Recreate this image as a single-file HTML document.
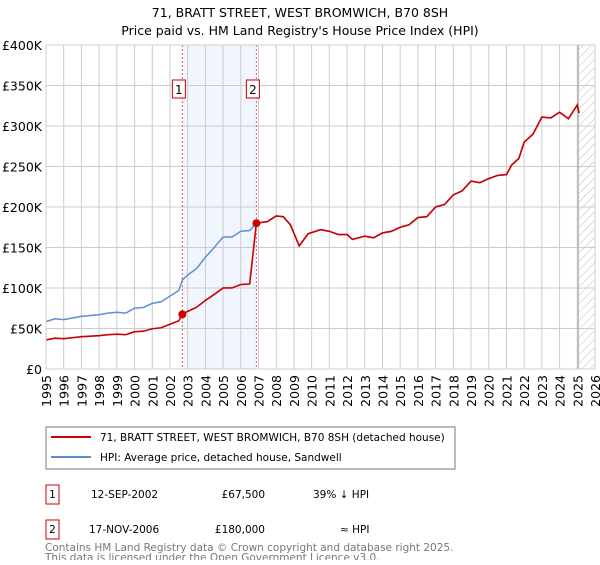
<!DOCTYPE html>
<html><head><meta charset="utf-8"><style>
body{margin:0;background:#fff;font-family:"Liberation Sans","DejaVu Sans",sans-serif;}
svg text{font-family:"DejaVu Sans","Liberation Sans",sans-serif;}
</style></head><body>
<svg id="chart" width="600" height="560" viewBox="0 0 600 560" xmlns="http://www.w3.org/2000/svg">
<defs><pattern id="hatch" width="6" height="6" patternUnits="userSpaceOnUse" patternTransform="rotate(45)"><line x1="0" y1="0" x2="0" y2="6" stroke="#bbb" stroke-width="1"/></pattern></defs>
<text x="300" y="17" text-anchor="middle" font-size="12.5">71, BRATT STREET, WEST BROMWICH, B70 8SH</text>
<text x="300" y="35" text-anchor="middle" font-size="12.5">Price paid vs. HM Land Registry's House Price Index (HPI)</text>
<g id="grid"></g><g id="marks"></g><g id="axes"></g>
<rect x="46" y="427" width="409" height="42" fill="#fff" stroke="#777"/>
<line x1="51" y1="437" x2="91" y2="437" stroke="#cc0000" stroke-width="2"/>
<text x="100" y="441" font-size="10.5">71, BRATT STREET, WEST BROMWICH, B70 8SH (detached house)</text>
<line x1="51" y1="457" x2="91" y2="457" stroke="#5b8fd0" stroke-width="2"/>
<text x="100" y="461" font-size="10.5">HPI: Average price, detached house, Sandwell</text>
<g font-size="10.5">
<rect x="46" y="485" width="13" height="19" fill="#fff" stroke="#cc0000"/><text x="52.5" y="498" text-anchor="middle">1</text>
<text x="91" y="498">12-SEP-2002</text><text x="265" y="498" text-anchor="end">£67,500</text><text x="313" y="498">39% ↓ HPI</text></g>
<g font-size="10.5">
<rect x="46" y="520" width="13" height="19" fill="#fff" stroke="#cc0000"/><text x="52.5" y="533" text-anchor="middle">2</text>
<text x="89" y="533">17-NOV-2006</text><text x="265" y="533" text-anchor="end">£180,000</text><text x="340" y="533">≈ HPI</text></g>
<text x="45" y="551" font-size="10.5" fill="#777">Contains HM Land Registry data © Crown copyright and database right 2025.</text>
<text x="45" y="561" font-size="10.5" fill="#777">This data is licensed under the Open Government Licence v3.0.</text>
</svg>
<script>
const hpiYears=[1995,1995.5,1996,1996.5,1997,1997.5,1998,1998.5,1999,1999.5,2000,2000.5,2001,2001.5,2002,2002.5,2002.7,2003,2003.5,2004,2004.5,2005,2005.5,2006,2006.5,2006.88,2007.5,2008,2008.4,2008.8,2009.3,2009.8,2010.5,2011,2011.5,2012,2012.3,2013,2013.5,2014,2014.5,2015,2015.5,2016,2016.5,2017,2017.5,2018,2018.5,2019,2019.5,2020,2020.5,2021,2021.3,2021.7,2022,2022.5,2023,2023.5,2024,2024.5,2025,2025.1];
const hpiValues=[58.5,62,61,63,65,66,67,69,70,69,75,76,81,83,90,97,110,116,124,138,150,163,163,170,171,180,182,189,188,178,152,167,172,170,166,166,160,164,162,168,170,175,178,187,188,200,203,215,220,232,230,235,239,240,252,260,280,290,311,310,317,309,326,316];
const saleDates=[2002.7,2006.88];
const salePrices=[67.5,180];
const yTicks=[0,50,100,150,200,250,300,350,400];
const yTickLabels=["£0","£50K","£100K","£150K","£200K","£250K","£300K","£350K","£400K"];
const xTicks=[1995,1996,1997,1998,1999,2000,2001,2002,2003,2004,2005,2006,2007,2008,2009,2010,2011,2012,2013,2014,2015,2016,2017,2018,2019,2020,2021,2022,2023,2024,2025,2026];
const NS="http://www.w3.org/2000/svg";
const X0=46,X1=595,Y0=369,Y1=45;
const xs=v=>X0+(v-1995)/(2026-1995)*(X1-X0);
const ys=v=>Y0-v/400*(Y0-Y1);
function el(t,a,p){const e=document.createElementNS(NS,t);for(const k in a)e.setAttribute(k,a[k]);p.appendChild(e);return e;}
const grid=document.getElementById('grid'),marks=document.getElementById('marks'),axes=document.getElementById('axes');
el('rect',{x:X0,y:Y1,width:X1-X0,height:Y0-Y1,fill:'#fff'},grid);
const shade=el('rect',{x:xs(saleDates[0]),y:Y1,width:xs(saleDates[1])-xs(saleDates[0]),height:Y0-Y1,fill:'#eef3fc',opacity:0.8},grid);


const hat=el('rect',{x:xs(2025.1),y:Y1,width:X1-xs(2025.1),height:Y0-Y1,fill:'url(#hatch)'},grid);


yTicks.forEach((v,i)=>{
 el('line',{x1:X0,x2:X1,y1:ys(v),y2:ys(v),stroke:'#ccc'},grid);
 const t=el('text',{x:X0-4,y:ys(v)+5,'text-anchor':'end','font-size':12.5},axes);t.textContent=yTickLabels[i];
 
 
});
xTicks.forEach(v=>{
 el('line',{x1:xs(v),x2:xs(v),y1:Y1,y2:Y0,stroke:'#ccc'},grid);
 const t=el('text',{x:0,y:0,'text-anchor':'end','font-size':12.5,transform:`translate(${xs(v)+5},${Y0+6}) rotate(-90)`},axes);t.textContent=v;
 
 
});
el('line',{x1:xs(2025.05),x2:xs(2025.05),y1:Y1,y2:Y0,stroke:'#999'},grid);
el('rect',{x:X0,y:Y1,width:X1-X0,height:Y0-Y1,fill:'none',stroke:'#ccc'},axes);
function hpiAt(d){for(let i=1;i<hpiYears.length;i++){if(d<=hpiYears[i]){const f=(d-hpiYears[i-1])/(hpiYears[i]-hpiYears[i-1]);return hpiValues[i-1]+f*(hpiValues[i]-hpiValues[i-1]);}}return hpiValues[hpiValues.length-1];}
const hp=hpiYears.map((y,i)=>xs(y)+','+ys(hpiValues[i])).join(' ');
const hl=el('polyline',{points:hp,fill:'none',stroke:'#5b8fd0','stroke-width':1.5},marks);


const pts=[];
hpiYears.forEach((y,i)=>{
 let k=-1;for(let j=0;j<saleDates.length;j++)if(y>=saleDates[j])k=j;
 const idx=Math.max(k,0);const r=salePrices[idx]/hpiAt(saleDates[idx]);
 if(i>0){saleDates.forEach((d,j)=>{if(d>hpiYears[i-1]&&d<y){const rr0=salePrices[Math.max(j-1,0)]/hpiAt(saleDates[Math.max(j-1,0)]);pts.push(xs(d)+','+ys(hpiAt(d)*rr0));pts.push(xs(d)+','+ys(salePrices[j]));}});}
 pts.push(xs(y)+','+ys(hpiValues[i]*r));
});
const pl=el('polyline',{points:pts.join(' '),fill:'none',stroke:'#cc0000','stroke-width':1.6},marks);


saleDates.forEach((d,i)=>{
 const vl=el('line',{x1:xs(d),x2:xs(d),y1:Y1,y2:Y0,stroke:'#e06060','stroke-dasharray':'2,2'},marks);
 
 
 const c=el('circle',{cx:xs(d),cy:ys(salePrices[i]),r:4,fill:'#cc0000'},marks);
 
 
 const b=el('rect',{x:xs(d)-10,y:80,width:13,height:18,fill:'#fff',stroke:'#cc0000'},marks);
 
 
 const t=el('text',{x:xs(d)-3.5,y:94,'text-anchor':'middle','font-size':12},marks);t.textContent=i+1;
});
</script>
</body></html>
